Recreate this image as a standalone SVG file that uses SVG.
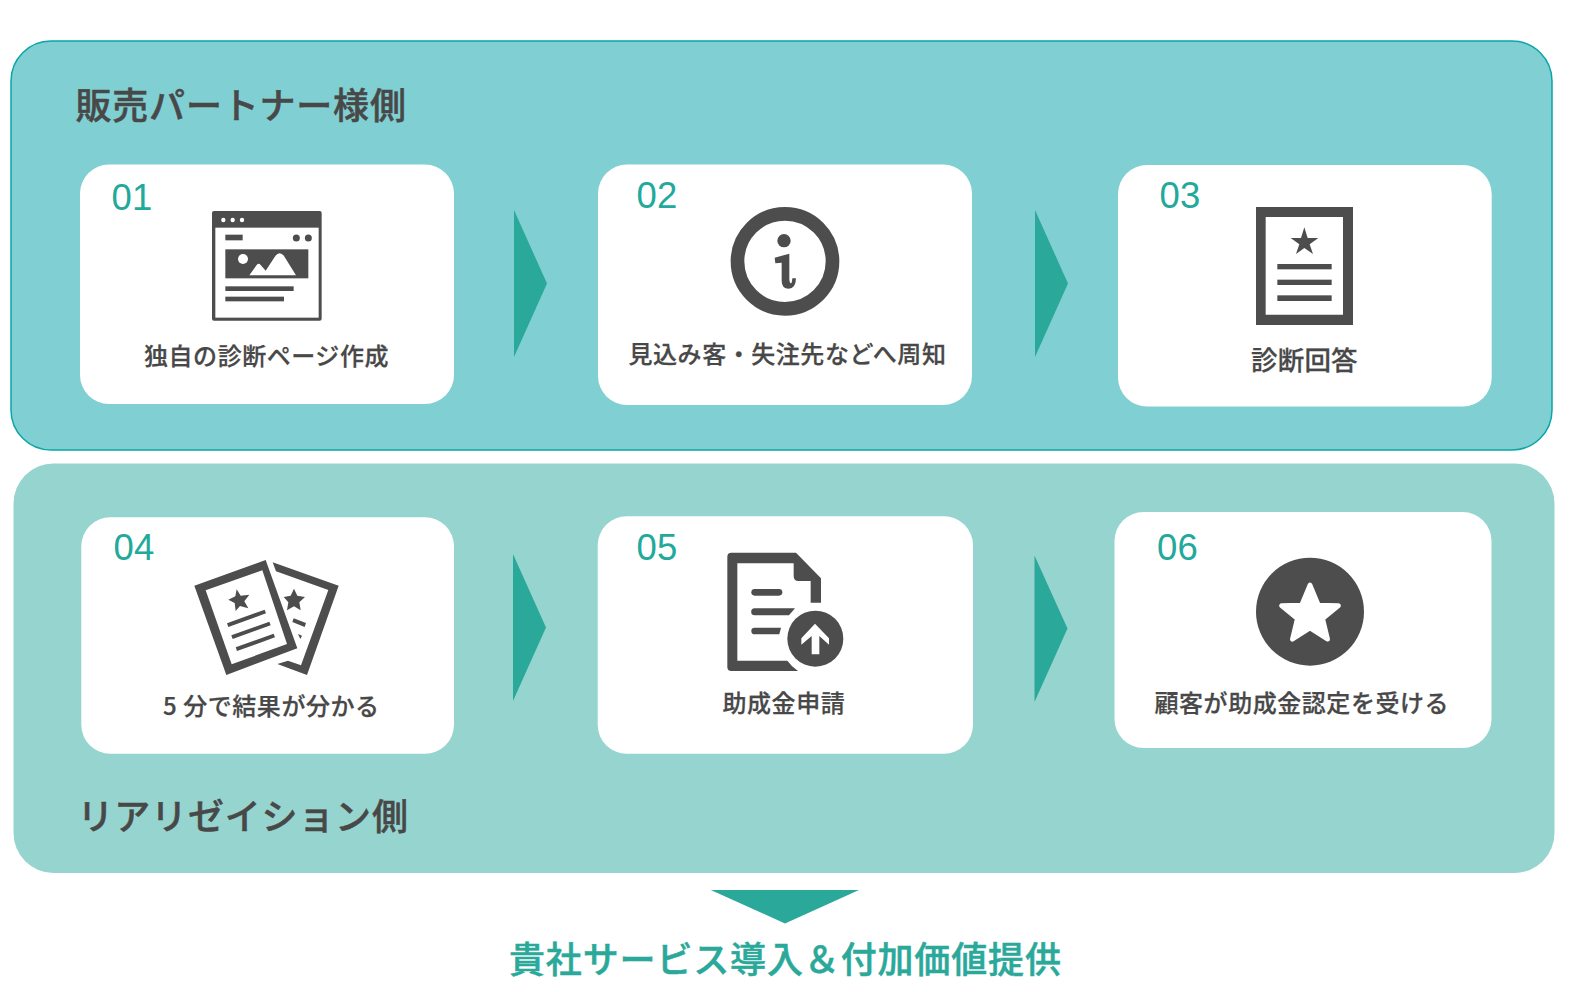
<svg xmlns="http://www.w3.org/2000/svg" width="1576" height="992" viewBox="0 0 1576 992">
<style>
.card{fill:#fff}
.t{font-family:"Noto Sans CJK JP","Noto Sans",sans-serif;font-weight:500;fill:#484848;stroke:#484848;stroke-width:.25px}
.s{font-size:24px;letter-spacing:.55px}
.h{font-size:36px;letter-spacing:.8px;stroke-width:.5px}
.n{font-family:"Liberation Sans",Arial,sans-serif;font-size:36.500px;letter-spacing:.3px;fill:#22a99b}
.i{fill:#4d4d4d}
.w{fill:#fff}
.a{fill:#2aa99b}
</style>
<rect width="1576" height="992" fill="#fff"/>
<g id="panel-partner">
<rect x="11" y="41" width="1541" height="409" rx="40" fill="#80cfd2" stroke="#0aa5a9" stroke-width="1.5"/>
<text class="t h" x="75.500" y="118.500">販売パートナー様側</text>
</g>
<g id="panel-realization">
<rect x="13.500" y="463.500" width="1541" height="409.500" rx="40" fill="#96d5cf"/>
<text class="t h" x="77.500" y="830" letter-spacing=".6">リアリゼイション側</text>
</g>
<g id="connectors">
<polygon class="a" points="514,210 547,283.500 514,357"/>
<polygon class="a" points="1035,210 1068,283.500 1035,357"/>
<polygon class="a" points="513,554 546,627.500 513,701"/>
<polygon class="a" points="1034.500,555.500 1067.500,628.500 1034.500,702"/>
<polygon class="a" points="710.800,890 859,890 785,923.500"/>
</g>
<g id="node-01">
<rect class="card" x="80" y="164.500" width="374" height="239.500" rx="29"/>
<text class="n" x="111.500" y="210">01</text>
<g transform="translate(60 150) scale(.33333)">
<rect class="i" x="456" y="183" width="329" height="329" rx="6"/>
<rect class="w" x="466" y="233" width="310" height="270"/>
<circle class="w" cx="490" cy="210" r="6.500"/><circle class="w" cx="518" cy="210" r="6.500"/><circle class="w" cx="546" cy="210" r="6.500"/>
<rect class="i" x="496" y="254" width="52" height="17"/>
<circle class="i" cx="709" cy="264" r="10.500"/><circle class="i" cx="745" cy="264" r="10.500"/>
<rect class="i" x="496" y="298" width="249" height="87"/>
<circle class="w" cx="549" cy="327" r="15"/>
<path class="w" d="M568 376L590 345Q596 338 602 345L617 362L646 318Q659 301 672 318L708 376Z"/>
<rect class="i" x="496" y="409" width="205" height="14"/>
<rect class="i" x="496" y="440" width="176" height="14"/>
</g>
<text class="t s" x="144" y="364.500">独自の診断ページ作成</text>
</g>
<g id="node-02">
<rect class="card" x="598" y="164.500" width="374" height="240.500" rx="29"/>
<text class="n" x="636.500" y="208">02</text>
<g transform="translate(590 150) scale(.33333)">
<circle cx="585" cy="334" r="142.500" fill="none" stroke="#4d4d4d" stroke-width="41"/>
<circle class="i" cx="582" cy="272" r="20"/>
<path class="i" d="M554 323L598 311V385Q598 400 603 400Q606 400 607 385H618Q617 416 596 416Q575 416 575 392V338L556 340Z"/>
</g>
<text class="t s" x="628.500" y="362.500">見込み客・失注先などへ周知</text>
</g>
<g id="node-03">
<rect class="card" x="1118" y="165" width="373.700" height="241.500" rx="29"/>
<text class="n" x="1159.500" y="208">03</text>
<g transform="translate(1110 150) scale(.33333)">
<path class="i" fill-rule="evenodd" d="M438 171H729V525H438ZM467 201V494H699V201Z"/>
<polygon class="i" points="583,232 593,264 625,264 599,283 609,312 583,294 558,312 568,283 542,264 573,264"/>
<rect class="i" x="502" y="342" width="163" height="16"/>
<rect class="i" x="502" y="389" width="163" height="16"/>
<rect class="i" x="502" y="436" width="163" height="17"/>
</g>
<text class="t" font-size="26.500" letter-spacing=".2" x="1251" y="369.500">診断回答</text>
</g>
<g id="node-04">
<rect class="card" x="81.300" y="517.300" width="372.700" height="236.500" rx="29"/>
<text class="n" x="113.500" y="560">04</text>
<g transform="translate(60 510) scale(.33333)">
<polygon class="i" points="638,157 836,227 741,495 652,462 684,452 723,466 805,240 648,184"/>
<polygon class="i" points="702,236 712,257 735,261 718,277 722,301 702,289 681,301 685,277 671,261 692,257"/>
<polygon class="i" points="701,325 738,339 734,351 697,336"/>
<polygon class="i" points="714,372 726,377 721,387"/>
<path class="i" fill-rule="evenodd" d="M403 227L617 150L712 415L499 495ZM437 241L515 463L681 402L607 181Z"/>
<polygon class="i" points="530,238 542,257 568,254 553,274 565,295 540,288 527,303 524,279 505,269 526,259"/>
<polygon class="i" points="501,340 614,299 618,310 505,351"/>
<polygon class="i" points="514,376 628,335 632,346 518,387"/>
<polygon class="i" points="527,412 641,371 645,382 531,423"/>
</g>
<text class="t s" x="163" y="714.500">5 分で結果が分かる</text>
</g>
<g id="node-05">
<rect class="card" x="597.700" y="516.300" width="375.300" height="237.500" rx="29"/>
<text class="n" x="636.500" y="560">05</text>
<g transform="translate(590 510) scale(.33333)">
<path class="i" d="M424 128H618L693 205V278H662V213H625Q611 213 611 198V160H442V452H592Q605 470 624 483H424Q412 483 412 471V140Q412 128 424 128Z"/>
<path class="i" d="M494 237H567A10 10 0 0 1 567 257H494A10 10 0 0 1 494 237Z"/>
<path class="i" d="M494 295H615L597 316H494A10.500 10.500 0 0 1 494 295Z"/>
<path class="i" d="M494 353H573L568 373H494A10 10 0 0 1 494 353Z"/>
<circle class="i" cx="676" cy="386" r="84"/>
<polygon class="w" points="675,341 717,385 717,404 688,378 688,433 665,433 665,378 634,404 634,385"/>
</g>
<text class="t s" x="722.500" y="711.500">助成金申請</text>
</g>
<g id="node-06">
<rect class="card" x="1114.500" y="512" width="377" height="236" rx="29"/>
<text class="n" x="1157" y="560">06</text>
<g transform="translate(1110 500) scale(.33333)">
<circle class="i" cx="600" cy="335" r="162"/>
<polygon class="w" stroke="#fff" stroke-width="14" stroke-linejoin="round" points="600,255 625,315 685.600,317 638,356 653,417.800 600,384 547,417.800 562,356 514.400,317 575,315"/>
</g>
<text class="t s" x="1154.500" y="711.500">顧客が助成金認定を受ける</text>
</g>
<g id="result">
<text class="t" font-size="36" letter-spacing=".85" x="509" y="972.500" style="fill:#2aa99b;stroke:#2aa99b;stroke-width:.5px">貴社サービス導入＆付加価値提供</text>
</g>
</svg>
